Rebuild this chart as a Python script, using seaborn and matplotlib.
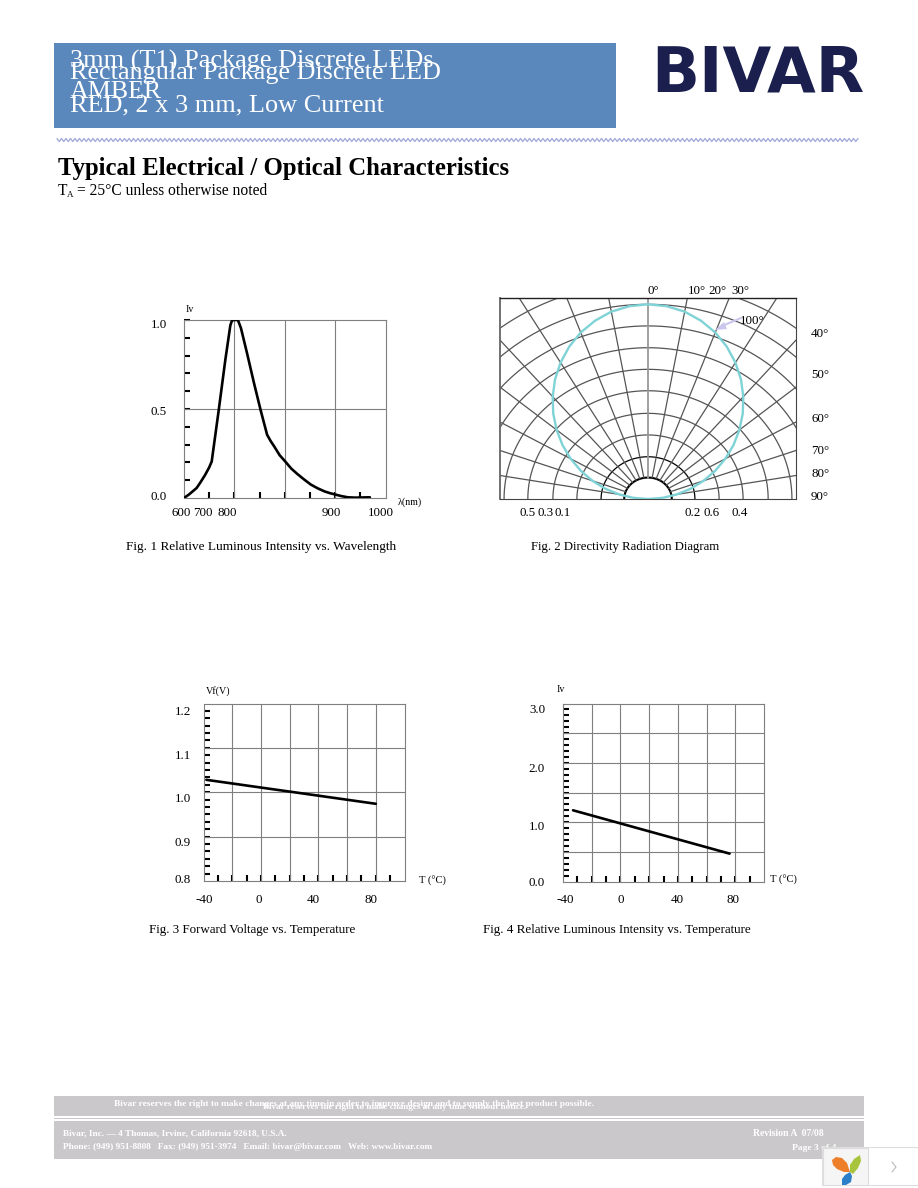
import numpy as np
import pandas as pd
import matplotlib
matplotlib.use("Agg")
import matplotlib.pyplot as plt
from matplotlib.patches import Rectangle, Polygon
import seaborn as sns

W, H = 918, 1188

# Fig 1 curve
wave_nm = [600, 610, 625, 632, 642, 650, 655, 669, 682, 692, 695, 697, 702, 707, 713, 725, 739, 752, 765,
           772, 779, 790, 801, 813, 825, 838, 852, 865, 879, 890, 901, 912, 925, 940, 969]
wave_iv = [0, .02, .056, .085, .13, .172, .205, .495, .775, .97, .995, 1.0, 1.0, 1.0, .955, .815, .645, .495, .355,
           .32, .29, .24, .205, .165, .135, .105, .075, .055, .037, .027, .019, .011, .004, .002, .004]

# Fig 2 pattern
dir_angle = [-90, -85, -80, -75, -70, -65, -60, -55, -50, -45, -40, -35, -30, -25, -20, -15, -10, -5,
             0, 5, 10, 15, 20, 25, 30, 35, 40, 45, 50, 55, 60, 65, 70, 75, 80, 85, 90]
dir_level = [0, .068, .136, .205, .274, .343, .413, .483, .552, .620, .686, .750, .809, .863, .910, .948, .977, .994,
             1, .994, .977, .948, .910, .863, .809, .750, .686, .620, .552, .483, .413, .343, .274, .205, .136, .068, 0]
arc_levels = [.11, .217, .329, .44, .556, .666, .777, .889, 1.0, 1.113]
spoke_angles = [-80, -70, -60, -50, -40, -30, -20, -10, 10, 20, 30, 40, 50, 60, 70, 80]

# Fig 3 and 4 lines
vf_temp = [-38, 80]
vf_volt = [1.028, .974]
iv_temp = [-33, 76]
iv_rel = [1.20, .47]

sns.set_theme(style="white")
plt.rcParams['font.family'] = ['Liberation Serif', 'DejaVu Serif']
GRID = "#7f7f7f"

fig = plt.figure(figsize=(W / 100, H / 100), dpi=100)


def put(x, y, s, size=12, ha="left", va="center", **kw):
    # pixel position on the page, size in px
    fig.text(x / W, 1 - y / H, s, fontsize=size * 0.72, ha=ha, va=va, **kw)


def page_rect(x0, y0, x1, y1, **kw):
    fig.add_artist(Rectangle((x0 / W, 1 - y1 / H), (x1 - x0) / W, (y1 - y0) / H,
                             transform=fig.transFigure, **kw))


def page_poly(pts, **kw):
    fig.add_artist(Polygon([[x / W, 1 - y / H] for x, y in pts], transform=fig.transFigure, lw=0, **kw))


def make_axes(x0, y0, x1, y1):
    ax = fig.add_axes([x0 / W, 1 - y1 / H, (x1 - x0) / W, (y1 - y0) / H])
    for s in ax.spines.values():
        s.set_color(GRID)
        s.set_linewidth(.8)
    return ax


def chart(ax, x, y, xlim, ylim, xgrid, ygrid, xticks, yticks):
    ax.set_xlim(*xlim)
    ax.set_ylim(*ylim)
    for v in xgrid:
        ax.axvline(v, color=GRID, lw=.8, zorder=1)
    for v in ygrid:
        ax.axhline(v, color=GRID, lw=.8, zorder=1)
    sns.lineplot(x=x, y=y, ax=ax, color="black", lw=1.9, sort=False, estimator=None, zorder=3)
    ax.set_xticks(xticks)
    ax.set_yticks(yticks)
    ax.tick_params(direction="in", length=4, width=1.5, color="black", labelbottom=False, labelleft=False,
                   bottom=True, left=True)
    ax.set_xlabel("")
    ax.set_ylabel("")


# header
page_rect(54, 43, 616, 128, color="#5b88bc", lw=0)
put(70, 68, "3mm (T1) Package Discrete LEDs", 26.3, va="baseline", color="white")
put(70, 79, "Rectangular Package Discrete LED", 26.1, va="baseline", color="white")
put(70, 98, "AMBER", 26, va="baseline", color="white")
put(70, 111, "RED, 2 x 3 mm, Low Current", 26.3, va="baseline", color="white")
put(651, 92, "BIVAR", 63, va="baseline", color="#1a1f4e", family="DejaVu Sans", weight="bold")
zig_x = np.arange(57, 860, 2.25)
zig_y = np.where(np.arange(len(zig_x)) % 2 == 0, 138.5, 141.5)
fig.add_artist(plt.Line2D(zig_x / W, 1 - zig_y / H, transform=fig.transFigure, color="#a4aedb", lw=1))
put(58, 175, "Typical Electrical / Optical Characteristics", 24.75, va="baseline", weight="bold", color="black")
put(58, 195, "T", 15.5, va="baseline", color="black")
put(67, 197, "A", 9, va="baseline", color="black")
put(77, 195, "= 25°C unless otherwise noted", 15.5, va="baseline", color="black")

# Fig 1
ax1 = make_axes(184, 320, 385.5, 498)
chart(ax1, wave_nm, wave_iv, (600, 1000), (0, 1), [700, 800, 900], [.5],
      [650, 700, 750, 800, 850, 900, 950], [.1, .2, .3, .4, .5, .6, .7, .8, .9, 1.0])
put(190, 310, "Iv", 10, ha="center", color="black")
for s, y in zip(["1.0", "0.5", "0.0"], [325, 412, 497]):
    put(167, y, s, 13, ha="right", color="black")
for s, x in zip(["600", "700", "800", "900", "1000"], [181.5, 203, 227, 331, 381]):
    put(x, 513, s, 13, ha="center", color="black")
put(398, 502, "λ(nm)", 10, color="black")
put(126, 547, "Fig. 1 Relative Luminous Intensity vs. Wavelength", 13.2, color="black")

# Fig 2: arcs are wider than tall in the drawing, so x is scaled
ax2 = make_axes(500, 298, 796, 499)
xs = 1.11
ax2.set_xlim(-148 / 194.7, 148 / 194.7)
ax2.set_ylim(0, 201 / 194.7)
ax2.set_xticks([])
ax2.set_yticks([])
for side, col, w in [("left", "#666666", 1.3), ("top", "#222222", 1), ("right", "#444444", .8), ("bottom", "#444444", .8)]:
    ax2.spines[side].set_color(col)
    ax2.spines[side].set_linewidth(w)
t = np.radians(np.arange(-90, 91, 2))
for i, r in enumerate(arc_levels):
    ax2.plot(xs * r * np.sin(t), r * np.cos(t), color="black" if i < 2 else "#555555",
             lw=1.5 if i == 0 else .9, zorder=2)
for a in spoke_angles:
    rad = np.radians(a)
    rr = np.array([arc_levels[0], 1.4])
    ax2.plot(xs * rr * np.sin(rad), rr * np.cos(rad), color="#555555", lw=.9, zorder=2)
ax2.plot([0, 0], [arc_levels[0], 1.1], color="#999999", lw=1.3, zorder=2)
a_rad = np.radians(dir_angle)
dir_df = pd.DataFrame({"x": xs * np.array(dir_level) * np.sin(a_rad), "y": np.array(dir_level) * np.cos(a_rad)})
sns.lineplot(data=dir_df, x="x", y="y", ax=ax2, color="#7fd3d6", lw=1.7, sort=False, estimator=None, zorder=4)
ax2.set_xlabel("")
ax2.set_ylabel("")
fig.add_artist(plt.Line2D([741 / W, 722 / W], [1 - 318 / H, 1 - 326 / H], transform=fig.transFigure,
                          color="#cbc6ee", lw=1.5, zorder=5))
page_poly([(715, 330), (724, 322), (727, 329)], color="#cbc6ee", zorder=5)
put(740, 321, "100°", 13, color="black")
for s, x in zip(["0°", "10°", "20°", "30°"], [653, 697, 717, 740]):
    put(x, 291, s, 13, ha="center", color="black")
for s, y in zip(["40°", "50°", "60°", "70°", "80°", "90°"], [334, 375, 419, 451, 474, 497]):
    put(811, y, s, 13, color="black")
for s, x in zip(["0.5", "0.3", "0.1", "0.2", "0.6", "0.4"], [528, 546, 563, 693, 712, 740]):
    put(x, 513, s, 13, ha="center", color="black")
put(531, 547, "Fig. 2 Directivity Radiation Diagram", 12.8, color="black")

# Fig 3
ax3 = make_axes(203.5, 703.5, 404.5, 881)
chart(ax3, vf_temp, vf_volt, (-40, 100), (.8, 1.2), [-20, 0, 20, 40, 60, 80], [.9, 1.0, 1.1],
      np.arange(-30, 100, 10), np.arange(49, 72) / 60)
put(218, 691, "Vf(V)", 10, ha="center", color="black")
for s, y in zip(["1.2", "1.1", "1.0", "0.9", "0.8"], [712, 756, 799, 843, 880]):
    put(191, y, s, 13, ha="right", color="black")
for s, x in zip(["-40", "0", "40", "80"], [204, 259, 313, 371]):
    put(x, 900, s, 13, ha="center", color="black")
put(419, 881, "T (°C)", 10.5, color="black")
put(149, 930, "Fig. 3 Forward Voltage vs. Temperature", 13, color="black")

# Fig 4
ax4 = make_axes(563, 703.5, 764, 881.5)
chart(ax4, iv_temp, iv_rel, (-40, 100), (0, 3), [-20, 0, 20, 40, 60, 80], [.5, 1.0, 1.5, 2.0, 2.5],
      np.arange(-30, 100, 10), np.arange(1, 30) / 10)
put(561, 690, "Iv", 10, ha="center", color="black")
for s, y in zip(["3.0", "2.0", "1.0", "0.0"], [710, 769, 827, 883]):
    put(545, y, s, 13, ha="right", color="black")
for s, x in zip(["-40", "0", "40", "80"], [565, 621, 677, 733]):
    put(x, 900, s, 13, ha="center", color="black")
put(770, 880, "T (°C)", 10.5, color="black")
put(483, 930, "Fig. 4 Relative Luminous Intensity vs. Temperature", 13, color="black")

# footer
page_rect(54, 1096, 864, 1116, color="#cbc8cc", lw=0)
page_rect(54, 1118, 864, 1119, color="#cbc8cc", lw=0)
page_rect(54, 1121, 864, 1159, color="#cbc8cc", lw=0)
put(114, 1104, "Bivar reserves the right to make changes at any time in order to improve design and to supply the best product possible.",
    9.35, weight="bold", color="white")
put(263, 1107, "Bivar reserves the right to make changes at any time without notice.", 9.2, weight="bold", color="white")
put(63, 1133, "Bivar, Inc. — 4 Thomas, Irvine, California 92618, U.S.A.", 9.3, weight="bold", color="white")
put(63, 1147, "Phone: (949) 951-8808   Fax: (949) 951-3974   Email: bivar@bivar.com   Web: www.bivar.com", 9.3, weight="bold", color="white")
put(753, 1133, "Revision A  07/08", 9.7, weight="bold", color="white")
put(792, 1148, "Page 3 of 4", 9.5, weight="bold", color="white")

# viewer widget lying over the page corner
page_rect(822, 1147, 918, 1185, facecolor="white", edgecolor="#dddddd", lw=.8, zorder=10)
page_rect(822.5, 1147.5, 868, 1185, facecolor="#f5f5f5", edgecolor="#dddddd", lw=.8, zorder=10)
page_poly([(832, 1160), (836, 1157), (842, 1158), (847, 1163), (850, 1172), (844, 1172), (837, 1169), (833, 1165)],
          color="#ee7f2a", zorder=11)
page_poly([(860, 1155), (861, 1161), (858, 1168), (853, 1174), (850, 1172), (850, 1165), (854, 1159)],
          color="#a8c33c", zorder=11)
page_poly([(850, 1172), (852, 1176), (851, 1182), (846, 1185), (842, 1185), (842, 1179), (845, 1175)],
          color="#2a7fc8", zorder=11)
fig.add_artist(plt.Line2D([892 / W, 896 / W, 892 / W], [1 - 1162 / H, 1 - 1167 / H, 1 - 1172 / H],
                          transform=fig.transFigure, color="#bbbbbb", lw=.8, zorder=11))

plt.savefig("out.png", dpi=100)
